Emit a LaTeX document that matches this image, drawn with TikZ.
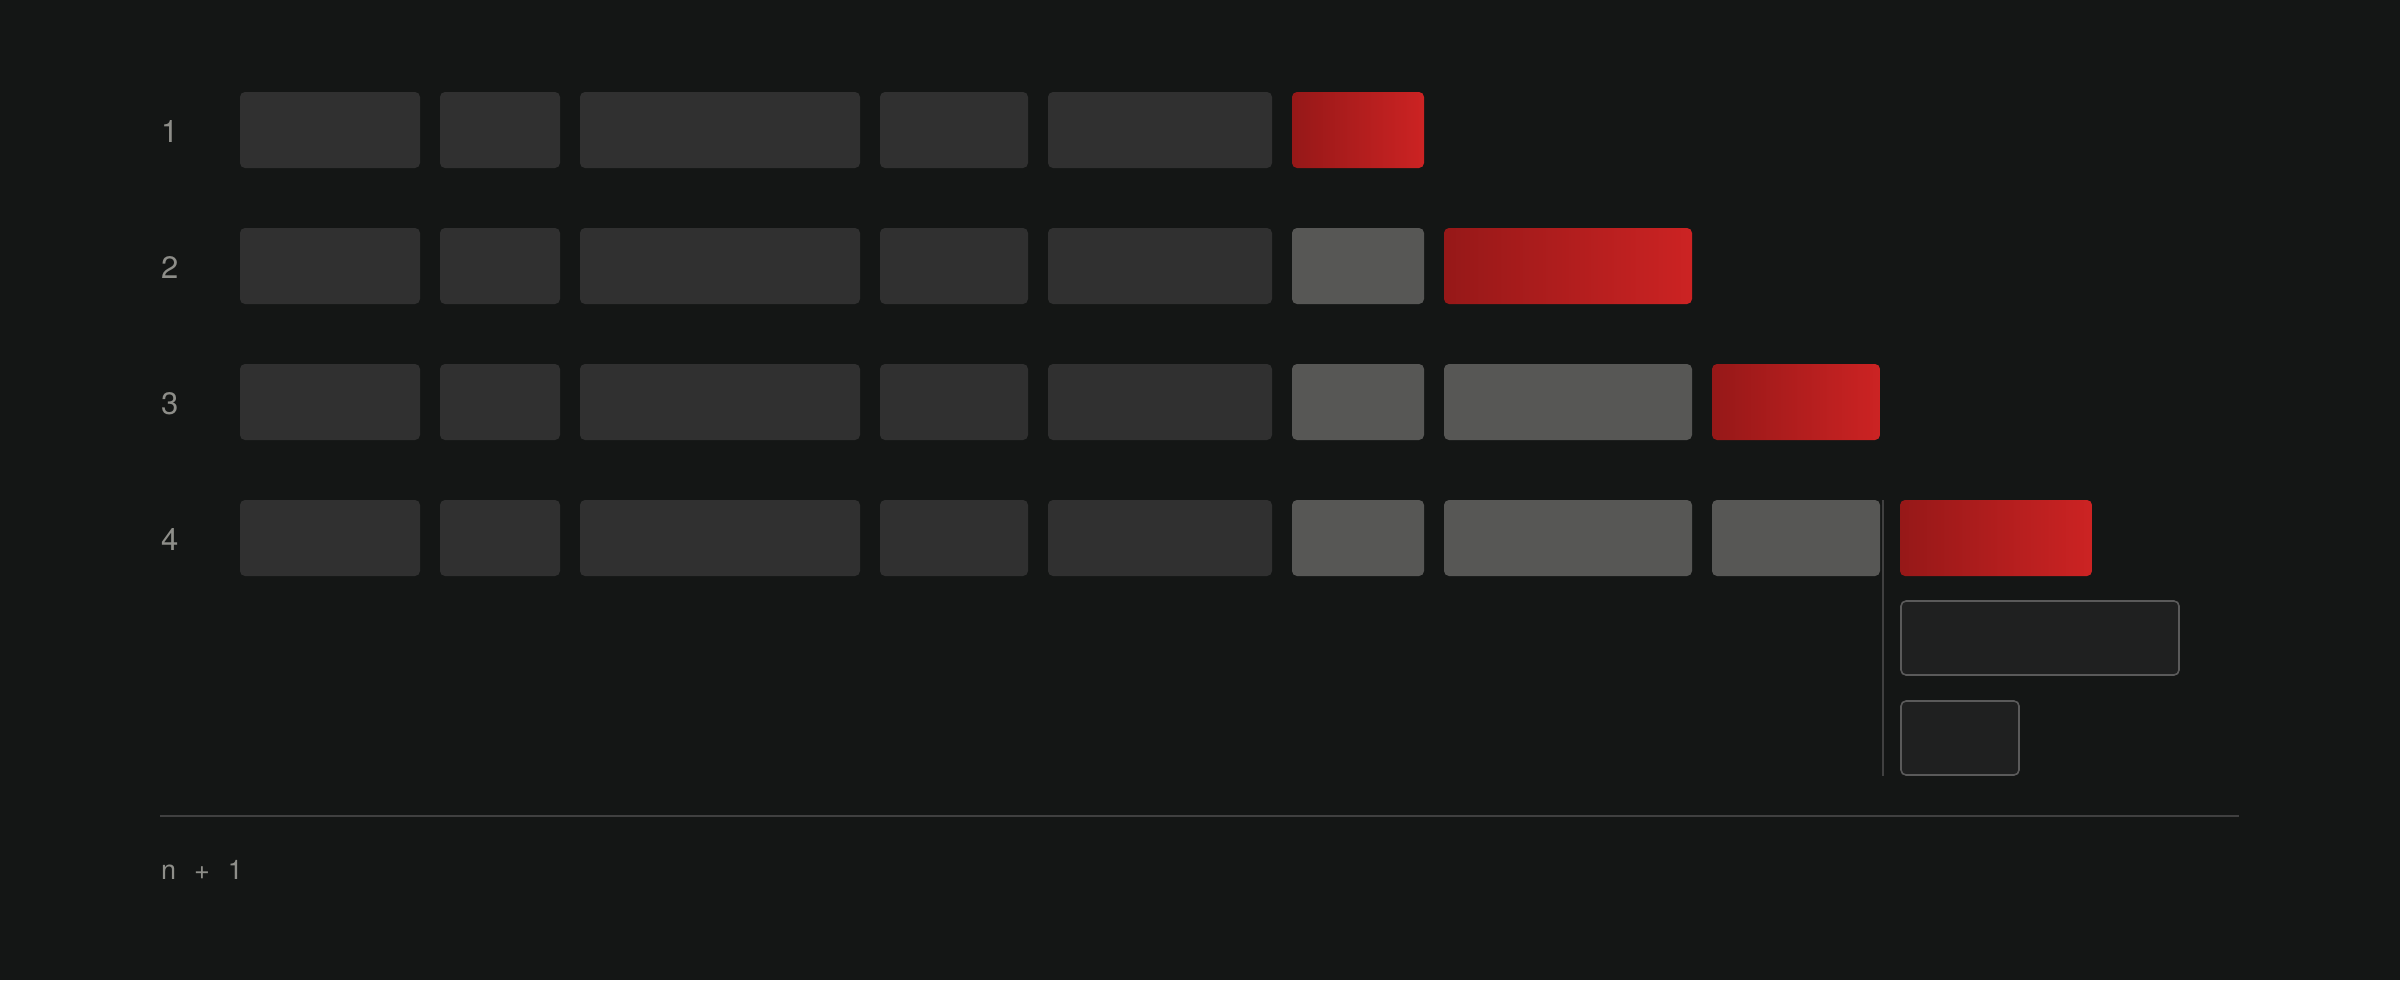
\documentclass[tikz,border=0pt]{standalone}
\usepackage{fontspec}
\setmainfont{TeX Gyre Heros}
\definecolor{bg}{HTML}{141615}
\definecolor{darkc}{HTML}{303030}
\definecolor{grayc}{HTML}{575755}
\definecolor{redl}{HTML}{961818}
\definecolor{redr}{HTML}{CC2323}
\definecolor{outf}{HTML}{1F2020}
\definecolor{outd}{HTML}{5A5A5A}
\definecolor{txt}{HTML}{8E8E89}
\definecolor{rule}{HTML}{404040}
\tikzset{
  cellbase/.style={rectangle, rounded corners=5pt, inner sep=0pt, outer sep=0pt, minimum height=76pt},
  darkcell/.style={cellbase, fill=darkc},
  graycell/.style={cellbase, fill=grayc},
  redcell/.style={cellbase, shade, shading angle=0, left color=redl, right color=redr},
  outcell/.style={cellbase, fill=outf, draw=outd, line width=1.6pt},
  lbl/.style={anchor=base west, inner sep=0pt, text=txt, font=\fontsize{31}{36}\selectfont},
  foot/.style={anchor=base west, inner sep=0pt, text=txt, font=\fontsize{27}{32}\selectfont},
  rulel/.style={draw=rule, line width=2pt}
}
\begin{document}
\begin{tikzpicture}[x=1pt,y=-1pt]
\fill[bg] (0,0) rectangle (2400,980);
\useasboundingbox (0,0) rectangle (2400,980);
% row labels
\foreach \r/\b in {1/142,2/278,3/414,4/550}{
  \node[lbl] (lab\r) at (161,\b) {\r};
}
% dark cells, all rows
\foreach \r/\y in {1/130,2/266,3/402,4/538}{
  \foreach \i/\a/\e in {1/240/420,2/440/560,3/580/860,4/880/1028,5/1048/1272}{
    \node[darkcell, minimum width={\e-\a}] (c\r-\i) at ({(\a+\e)/2},\y) {};
  }
}
% gray cells
\foreach \r/\y in {2/266,3/402,4/538}{
  \node[graycell, minimum width=132] (c\r-6) at (1358,\y) {};
}
\foreach \r/\y in {3/402,4/538}{
  \node[graycell, minimum width=248] (c\r-7) at (1568,\y) {};
}
\node[graycell, minimum width=168] (c4-8) at (1796,538) {};
% red cells
\node[redcell, minimum width=132] (c1-6) at (1358,130) {};
\node[redcell, minimum width=248] (c2-7) at (1568,266) {};
\node[redcell, minimum width=168] (c3-8) at (1796,402) {};
\node[redcell, minimum width=192] (c4-9) at (1996,538) {};
% outlined cells
\node[outcell, minimum width=278, minimum height=74] (o1) at (2040,638) {};
\node[outcell, minimum width=118, minimum height=74] (o2) at (1960,738) {};
% divider
\coordinate (v1) at (1883,500);
\coordinate (v2) at (1883,776);
\draw[draw=rule, line width=1.6pt] (v1) -- (v2);
% baseline rule
\coordinate (h1) at (160,816);
\coordinate (h2) at (2239,816);
\draw[rulel] (h1) -- (h2);
\node[foot] (nfoot) at (161,879) {n\hspace{18pt}+\hspace{18pt}1};
\end{tikzpicture}
\end{document}
